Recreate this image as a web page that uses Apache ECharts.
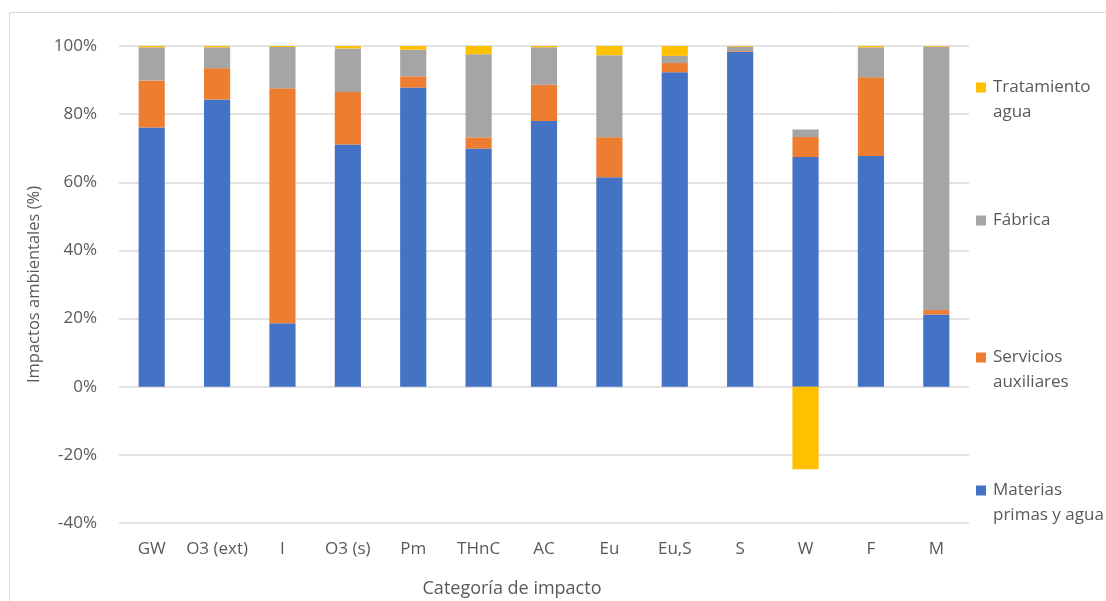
<!DOCTYPE html>
<html>
<head>
<meta charset="utf-8">
<script src="https://cdn.jsdelivr.net/npm/echarts@6/dist/echarts.min.js"></script>
<style>
  html, body { margin: 0; padding: 0; background: #fff; }
  #chart { width: 1106px; height: 601px; }
</style>
</head>
<body>
<div id="chart"></div>
<script>
// Categorías de impacto
const categories = ['GW', 'O3 (ext)', 'I', 'O3 (s)', 'Pm', 'THnC', 'AC', 'Eu', 'Eu,S', 'S', 'W', 'F', 'M'];

// Contribución (%) de cada etapa
const materiasPrimas = [76.1, 84.3, 18.6, 71.1, 87.8, 69.9, 78.0, 61.5, 92.3, 98.3, 67.4, 67.7, 21.2];
const serviciosAux   = [13.8, 9.2, 69.0, 15.4, 3.3, 3.3, 10.6, 11.7, 2.7, 0.2, 5.9, 23.1, 1.3];
const fabrica        = [9.7, 6.1, 12.1, 12.8, 7.8, 24.4, 11.0, 24.1, 2.1, 1.3, 2.2, 8.8, 77.3];
const tratamiento    = [0.4, 0.4, 0.3, 0.7, 1.1, 2.4, 0.4, 2.7, 2.9, 0.2, -24.2, 0.4, 0.2];

const yTicks = { min: -40, max: 100, step: 20 };

const FONT = '"Open Sans", sans-serif';
const TEXT = '#595959';

const seriesDefs = [
  { name: 'Materias\nprimas y agua', data: materiasPrimas, color: '#4472C4' },
  { name: 'Servicios\nauxiliares', data: serviciosAux, color: '#ED7D31' },
  { name: 'Fábrica', data: fabrica, color: '#A5A5A5' },
  { name: 'Tratamiento\nagua', data: tratamiento, color: '#FFC000' }
];

// Una leyenda por elemento; en los nombres de dos líneas el icono queda a la altura de la primera
const legendTops = { 'Tratamiento\nagua': 50, 'Fábrica': 208, 'Servicios\nauxiliares': 320, 'Materias\nprimas y agua': 453 };
const legends = seriesDefs.map(s => {
  const twoLines = s.name.indexOf('\n') >= 0;
  return {
    data: [s.name],
    left: 976,
    top: legendTops[s.name],
    orient: 'vertical',
    itemWidth: 10,
    itemHeight: 10,
    itemGap: 0,
    padding: 0,
    selectedMode: false,
    icon: 'rect',
    formatter: name => (twoLines ? '\n' + name : name),
    textStyle: { fontFamily: FONT, fontSize: 17, color: TEXT, lineHeight: 25, padding: [0, 0, 0, 2] }
  };
});

const chart = echarts.init(document.getElementById('chart'), null, { renderer: 'canvas' });
chart.setOption({
  animation: false,
  backgroundColor: '#ffffff',
  textStyle: { fontFamily: FONT },
  grid: { left: 119, right: 137, top: 46, bottom: 78, containLabel: false },
  legend: legends,
  xAxis: {
    type: 'category',
    data: categories,
    position: 'bottom',
    axisLine: { show: false, onZero: false },
    axisTick: { show: false },
    axisLabel: { color: TEXT, fontSize: 17, fontFamily: FONT, margin: 18, interval: 0 }
  },
  yAxis: {
    type: 'value',
    min: yTicks.min,
    max: yTicks.max,
    interval: yTicks.step,
    name: 'Impactos ambientales (%)',
    nameLocation: 'middle',
    nameGap: 71,
    nameTextStyle: { color: TEXT, fontSize: 16.5, fontFamily: FONT },
    axisLine: { show: false },
    axisTick: { show: false },
    axisLabel: { color: TEXT, fontSize: 17, fontFamily: FONT, margin: 22, formatter: v => v + '%' },
    splitLine: { lineStyle: { color: '#D9D9D9', width: 1.5 } }
  },
  graphic: [
    {
      type: 'rect',
      silent: true,
      shape: { x: 9.5, y: 12.5, width: 1200, height: 700 },
      style: { fill: 'none', stroke: '#D9D9D9', lineWidth: 1 }
    },
    {
      type: 'text',
      x: 512,
      y: 589,
      style: {
        text: 'Categoría de impacto', fill: TEXT, font: '18px ' + FONT,
        textAlign: 'center', textVerticalAlign: 'middle'
      }
    }
  ],
  series: seriesDefs.map(s => ({
    name: s.name,
    type: 'bar',
    stack: 'total',
    barWidth: '40%',
    itemStyle: { color: s.color },
    data: s.data
  }))
});
</script>
</body>
</html>
